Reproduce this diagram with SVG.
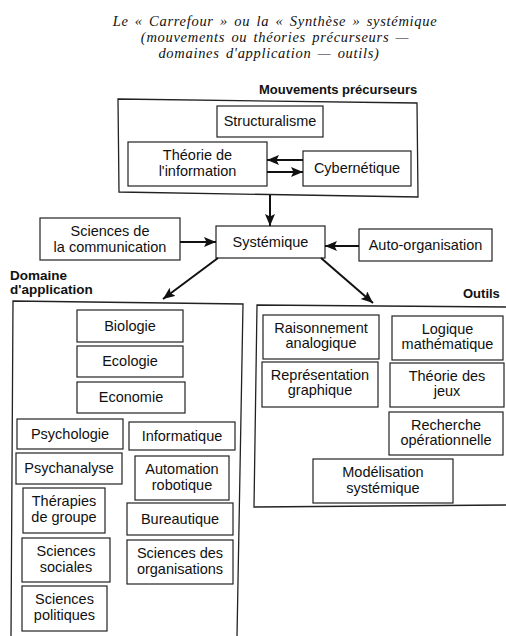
<svg xmlns="http://www.w3.org/2000/svg" width="506" height="636" viewBox="0 0 506 636">
<defs>
<style>
.title{font-family:"Liberation Serif","Times New Roman",serif;font-style:italic;font-size:14.5px;letter-spacing:0.7px;word-spacing:2px;fill:#111;text-anchor:middle}
.hdr{font-family:"Liberation Sans",Arial,sans-serif;font-weight:bold;font-size:13px;fill:#111}
.lbl{font-family:"Liberation Sans",Arial,sans-serif;font-size:14.5px;fill:#111;text-anchor:middle}
.box{fill:#fff;stroke:#222;stroke-width:1.2}
.frame{fill:none;stroke:#222;stroke-width:1.3}
.arr{stroke:#111;stroke-width:2;fill:none;marker-end:url(#ah)}
</style>
<marker id="ah" markerUnits="userSpaceOnUse" markerWidth="13" markerHeight="11" refX="12" refY="5" orient="auto">
<path d="M0,0 L12,5 L0,10 L2.5,5 z" fill="#111"/>
</marker>
</defs>
<rect width="506" height="636" fill="#fff"/>

<g id="title">
<text class="title" x="275" y="26">Le « Carrefour » ou la « Synthèse » systémique</text>
<text class="title" x="275" y="42">(mouvements ou théories précurseurs —</text>
<text class="title" x="269" y="58">domaines d'application — outils)</text>
</g>

<g id="precurseurs">
<text class="hdr" x="259" y="94">Mouvements précurseurs</text>
<path class="frame" d="M118,99 L417,103 L418,197 L119,192 Z"/>
</g>
<g id="structuralisme">
<rect class="box" x="217" y="106" width="106" height="31"/>
<text class="lbl" x="270" y="126">Structuralisme</text>
</g>
<g id="theorie-info">
<rect class="box" x="128" y="142" width="139" height="44"/>
<text class="lbl" x="197.5" y="160">Théorie de</text>
<text class="lbl" x="197.5" y="176">l'information</text>
</g>
<g id="cybernetique">
<rect class="box" x="303" y="151" width="108" height="35"/>
<text class="lbl" x="357" y="173">Cybernétique</text>
</g>

<g id="sciences-comm">
<rect class="box" x="40" y="218" width="140" height="42"/>
<text class="lbl" x="110" y="236">Sciences de</text>
<text class="lbl" x="110" y="252">la communication</text>
</g>
<g id="systemique">
<rect class="box" x="216" y="226" width="109" height="32"/>
<text class="lbl" x="270.5" y="247">Systémique</text>
</g>
<g id="auto-organisation">
<rect class="box" x="359" y="229" width="133" height="32"/>
<text class="lbl" x="425.5" y="250">Auto-organisation</text>
</g>

<g id="domaine">
<text class="hdr" x="10" y="280" style="font-size:13.5px">Domaine</text>
<text class="hdr" x="10" y="294" style="font-size:13.5px">d'application</text>
<path class="frame" d="M11,637 L13,301 L243,304 L237,637"/>
</g>
<g id="biologie"><rect class="box" x="77" y="310" width="106" height="32"/><text class="lbl" x="130" y="331">Biologie</text></g>
<g id="ecologie"><rect class="box" x="77" y="346" width="106" height="31"/><text class="lbl" x="130" y="366">Ecologie</text></g>
<g id="economie"><rect class="box" x="77" y="382" width="108" height="31"/><text class="lbl" x="131" y="402">Economie</text></g>
<g id="psychologie"><rect class="box" x="17" y="419" width="106" height="30"/><text class="lbl" x="70" y="439">Psychologie</text></g>
<g id="psychanalyse"><rect class="box" x="16" y="453" width="106" height="31"/><text class="lbl" x="69" y="473">Psychanalyse</text></g>
<g id="therapies"><rect class="box" x="23" y="488" width="82" height="45"/><text class="lbl" x="64" y="506">Thérapies</text><text class="lbl" x="64" y="522">de groupe</text></g>
<g id="sciences-sociales"><rect class="box" x="22" y="538" width="88" height="44"/><text class="lbl" x="66" y="556">Sciences</text><text class="lbl" x="66" y="572">sociales</text></g>
<g id="sciences-politiques"><rect class="box" x="22" y="586" width="85" height="45"/><text class="lbl" x="64.5" y="604">Sciences</text><text class="lbl" x="64.5" y="620">politiques</text></g>
<g id="informatique"><rect class="box" x="129" y="422" width="106" height="28"/><text class="lbl" x="182" y="441">Informatique</text></g>
<g id="automation"><rect class="box" x="135" y="456" width="94" height="44"/><text class="lbl" x="182" y="474">Automation</text><text class="lbl" x="182" y="490">robotique</text></g>
<g id="bureautique"><rect class="box" x="127" y="503" width="106" height="32"/><text class="lbl" x="180" y="524">Bureautique</text></g>
<g id="sciences-organisations"><rect class="box" x="127" y="540" width="106" height="44"/><text class="lbl" x="180" y="558">Sciences des</text><text class="lbl" x="180" y="574">organisations</text></g>

<g id="outils">
<text class="hdr" x="463" y="298" style="font-size:13px">Outils</text>
<path class="frame" d="M507,307 L257,305 L254,507 L507,505"/>
</g>
<g id="raisonnement"><rect class="box" x="263" y="315" width="116" height="44"/><text class="lbl" x="321" y="333">Raisonnement</text><text class="lbl" x="321" y="348">analogique</text></g>
<g id="representation"><rect class="box" x="262" y="362" width="116" height="45"/><text class="lbl" x="320" y="380">Représentation</text><text class="lbl" x="320" y="395">graphique</text></g>
<g id="logique"><rect class="box" x="392" y="316" width="111" height="44"/><text class="lbl" x="447.5" y="334">Logique</text><text class="lbl" x="447.5" y="349">mathématique</text></g>
<g id="theorie-jeux"><rect class="box" x="390" y="363" width="114" height="44"/><text class="lbl" x="447" y="381">Théorie des</text><text class="lbl" x="447" y="396">jeux</text></g>
<g id="recherche"><rect class="box" x="389" y="412" width="114" height="43"/><text class="lbl" x="446" y="430">Recherche</text><text class="lbl" x="446" y="445">opérationnelle</text></g>
<g id="modelisation"><rect class="box" x="313" y="459" width="140" height="44"/><text class="lbl" x="383" y="477">Modélisation</text><text class="lbl" x="383" y="493">systémique</text></g>

<g id="connectors">
<line class="arr" x1="303" y1="160" x2="267" y2="160"/>
<line class="arr" x1="267" y1="172" x2="303" y2="172"/>
<line class="arr" x1="270" y1="195" x2="270" y2="226"/>
<line class="arr" x1="180" y1="242" x2="216" y2="242"/>
<line class="arr" x1="359" y1="246" x2="325" y2="246"/>
<line class="arr" x1="218" y1="258" x2="163" y2="299"/>
<line class="arr" x1="321" y1="258" x2="373" y2="303"/>
</g>
</svg>
